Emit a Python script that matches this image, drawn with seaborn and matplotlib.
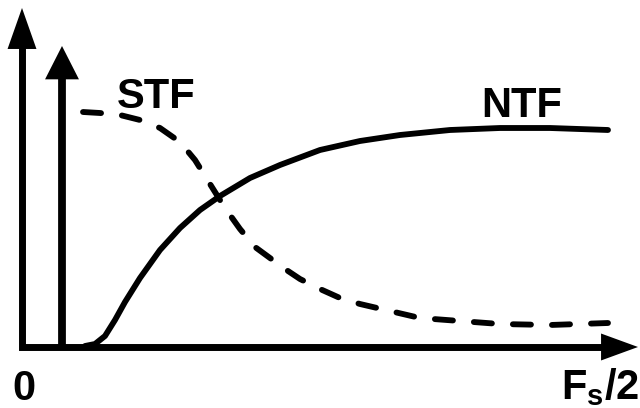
import matplotlib
matplotlib.use("Agg")
import matplotlib.pyplot as plt
import seaborn as sns
import pandas as pd

# Signal and noise transfer functions (frequency axis 0 .. Fs/2, screen-style units)
stf_freq = [83, 100, 120, 140, 160, 180, 195, 210, 225, 240, 255, 270, 285, 300, 320, 340, 360, 390, 420, 460, 500, 550, 608]
stf_mag = [112, 113, 115, 120, 128, 142, 160, 184, 208, 229, 247, 258, 269, 279, 289, 298, 304, 311, 318, 321, 324, 325, 323]
ntf_freq = [85, 95, 105, 115, 125, 140, 160, 180, 200, 220, 250, 280, 320, 360, 400, 450, 500, 550, 608]
ntf_mag = [346, 344, 336, 320, 302, 278, 250, 228, 210, 196, 178, 165, 150, 141, 135, 130, 128, 128, 130]

curve_labels = ["STF", "NTF"]
axis_labels = ["0", r"$\mathbf{F_s/2}$"]

sns.set_theme(style="white")
plt.rcParams["font.family"] = ["Liberation Sans", "DejaVu Sans"]
plt.rcParams["text.color"] = "black"
plt.rcParams["mathtext.fontset"] = "custom"
plt.rcParams["mathtext.bf"] = "Liberation Sans:bold"
plt.rcParams["mathtext.rm"] = "Liberation Sans"

fig = plt.figure(figsize=(6.4, 4.08), dpi=100)
ax = fig.add_axes([0, 0, 1, 1])
ax.set_xlim(0, 640)
ax.set_ylim(408, 0)
ax.axis("off")

curve_lw = 4.2
stf = pd.DataFrame({"f": stf_freq, "mag": stf_mag})
ntf = pd.DataFrame({"f": ntf_freq, "mag": ntf_mag})
sns.lineplot(data=stf, x="f", y="mag", ax=ax, color="black", lw=curve_lw,
             linestyle=(0, (3.1, 3.6)), dash_capstyle="round", sort=False)
sns.lineplot(data=ntf, x="f", y="mag", ax=ax, color="black", lw=curve_lw,
             solid_capstyle="round", sort=False)

# axes and the input tone: thick stems plus filled arrowheads
axis_lw = 5.0
ax.plot([22, 22, 605], [40, 347, 347], color="black", lw=axis_lw,
        solid_joinstyle="miter", solid_capstyle="butt")
ax.plot([62, 62], [347, 75], color="black", lw=5.6, solid_capstyle="butt")


def head(tip, tail, length, half_width):
    ax.annotate("", xy=tip, xytext=tail,
                arrowprops=dict(arrowstyle=f"-|>,head_length={length},head_width={half_width}",
                                color="black", lw=0, mutation_scale=10,
                                shrinkA=0, shrinkB=0))


head((22, 8), (22, 100), 2.95, 1.04)
head((638, 347), (560, 347), 2.66, 0.97)
head((62, 46), (62, 120), 2.4, 1.22)

fs = 30
ax.text(117, 108, curve_labels[0], fontsize=fs, fontweight="bold", ha="left", va="baseline")
ax.text(481, 117, curve_labels[1], fontsize=fs, fontweight="bold", ha="left", va="baseline")
ax.text(12, 400, axis_labels[0], fontsize=fs, fontweight="bold", ha="left", va="baseline")
ax.text(639, 399, axis_labels[1], fontsize=fs, fontweight="bold", ha="right", va="baseline")

fig.savefig("out.png", dpi=100)
